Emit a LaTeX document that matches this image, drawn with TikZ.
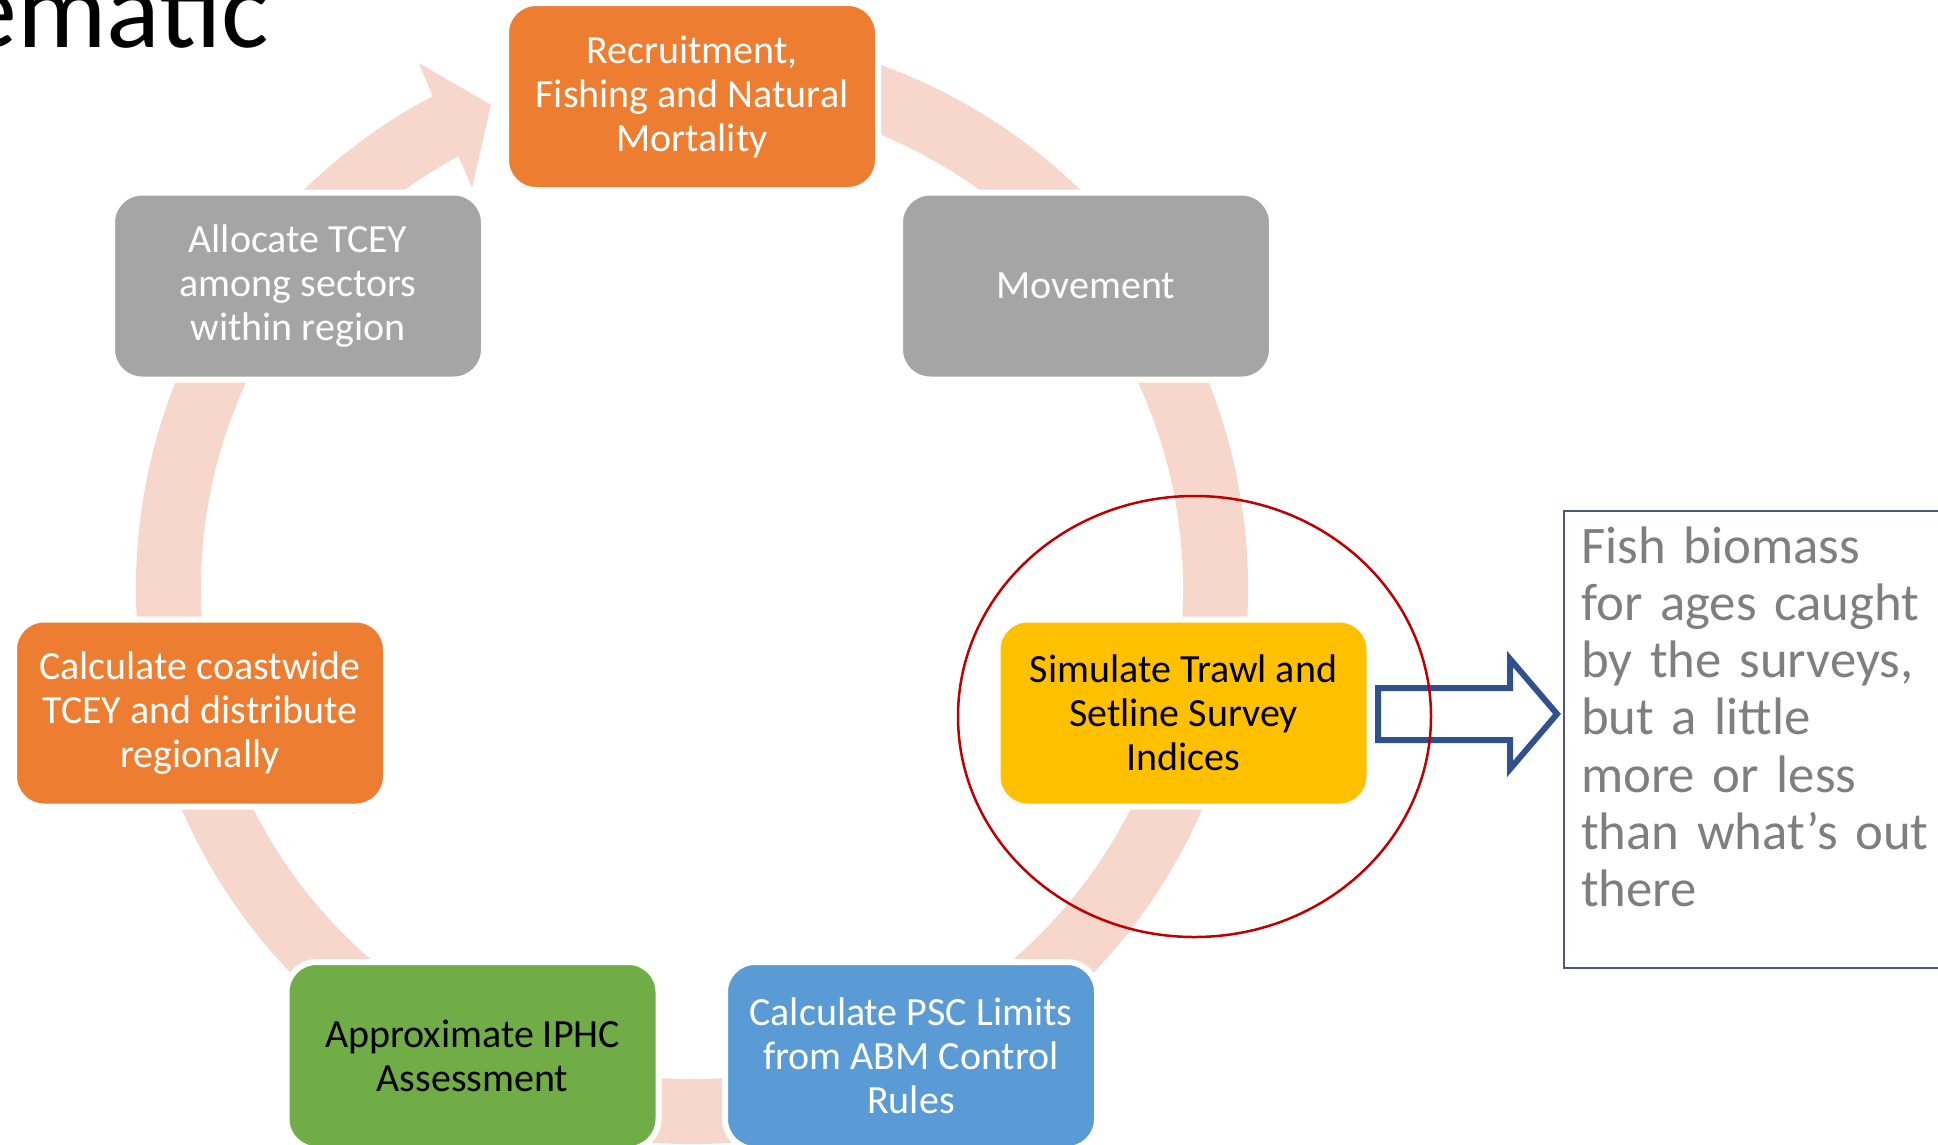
\documentclass[tikz,border=0pt]{standalone}
\usepackage{fontspec}
\setmainfont{Carlito}
\definecolor{accOrange}{HTML}{ED7D31}
\definecolor{accGray}{HTML}{A5A5A5}
\definecolor{accYellow}{HTML}{FFC000}
\definecolor{accBlue}{HTML}{5B9BD5}
\definecolor{accGreen}{HTML}{70AD47}
\definecolor{ringPink}{HTML}{F7D7CC}
\definecolor{ovalRed}{HTML}{C00000}
\definecolor{arrowBlue}{HTML}{2F528F}
\definecolor{frameEdge}{HTML}{4A5A78}
\definecolor{noteGray}{HTML}{7F7F7F}
\begin{document}
\begin{tikzpicture}[x=1pt,y=1pt,
  cyclebox/.style={rounded corners=30pt, minimum width=372pt, minimum height=187pt,
    draw=white, line width=6pt, inner sep=0pt, align=center,
    font=\fontsize{40}{44}\selectfont},
  ringband/.style={draw=ringPink, line width=65pt},
  blockarrow/.style={draw=arrowBlue, line width=6pt, line join=miter},
  redoval/.style={draw=ovalRed, line width=2.5pt},
  noteframe/.style={draw=frameEdge, line width=2pt}]
\useasboundingbox (0,0) rectangle (1938,-1144);

% title fragment
\node[anchor=base east, inner sep=0pt, font=\fontsize{112}{120}\selectfont] (title) at (269,-47) {ematic};

% cycle ring with arrow head
\coordinate (ctr) at (692,-588);
\draw[ringband] ([shift={(100:523.5)}]ctr) arc[start angle=100, end angle=-242.5, radius=523.5];
\fill[ringPink] ([shift={(117.5:592)}]ctr) -- ([shift={(112.6:523.5)}]ctr) -- ([shift={(118.8:456.5)}]ctr) -- cycle;

% boxes
\node[cyclebox, fill=accOrange, text=white] (recr) at (692,-96.5) {Recruitment,\\Fishing and Natural\\Mortality};
\node[cyclebox, fill=accGray, text=white] (move) at (1086,-286) {Movement};
\node[cyclebox, fill=accYellow, text=black] (surv) at (1183.5,-713) {Simulate Trawl and\\Setline Survey\\Indices};
\node[cyclebox, fill=accBlue, text=white] (psc) at (911,-1055.5) {Calculate PSC Limits\\from ABM Control\\Rules};
\node[cyclebox, fill=accGreen, text=black] (iphc) at (472.5,-1055.5) {Approximate IPHC\\Assessment};
\node[cyclebox, fill=accOrange, text=white] (coast) at (200,-713) {Calculate coastwide\\TCEY and distribute\\regionally};
\node[cyclebox, fill=accGray, text=white] (alloc) at (298,-286) {Allocate TCEY\\among sectors\\within region};

% block arrow
\draw[blockarrow] (1378,-688) -- (1510,-688) -- (1510,-659) -- (1557,-714) -- (1510,-769) -- (1510,-740) -- (1378,-740) -- cycle;

% red oval
\draw[redoval] (1194.5,-716.5) ellipse[x radius=236.5, y radius=220.5];

% note box
\draw[noteframe] (1950,-511) -- (1564,-511) -- (1564,-968) -- (1950,-968);
\node[anchor=base west, inner sep=0pt, text width=400pt, align=left, text=noteGray,
  font=\fontsize{52.8}{57.3}\selectfont] (fish) at (1581,-563)
  {Fish biomass\\for ages caught\\by the surveys,\\but a little\\more or less\\than what’s out\\there};
\end{tikzpicture}
\end{document}
